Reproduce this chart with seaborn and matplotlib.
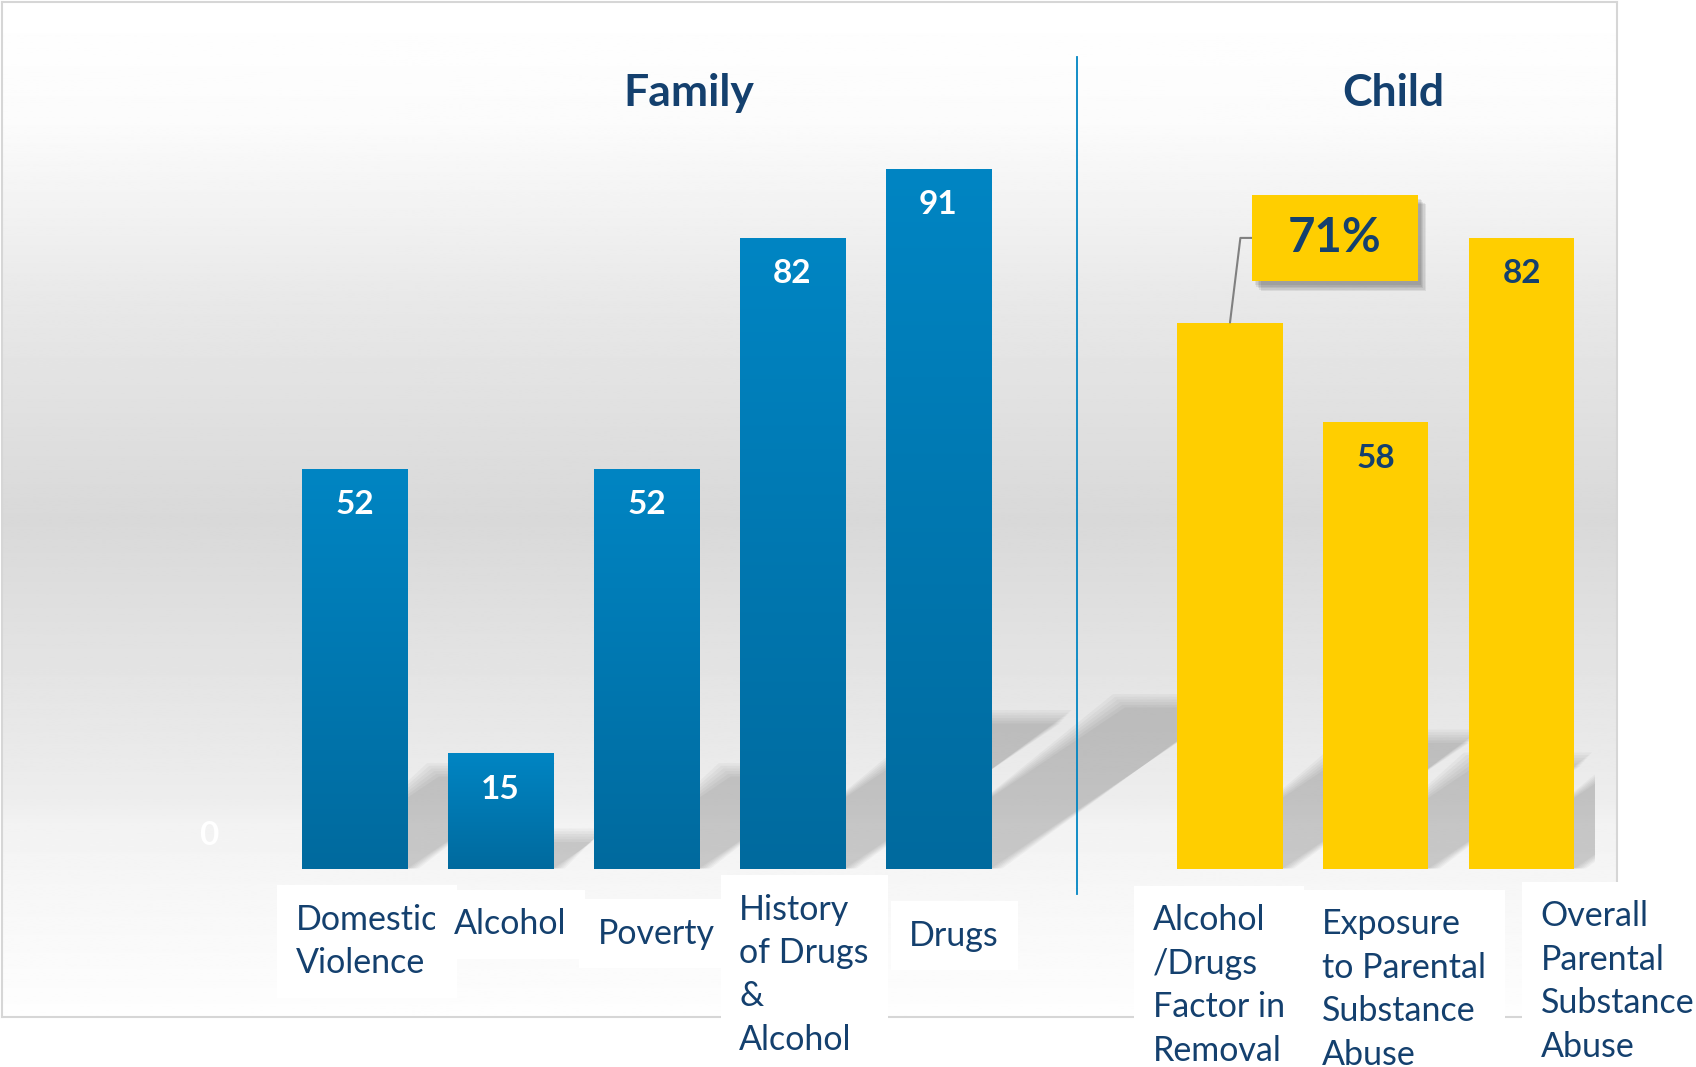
import numpy as np
import pandas as pd
import matplotlib
matplotlib.use('Agg')
import matplotlib.pyplot as plt
import matplotlib.patheffects as pe
from matplotlib.colors import LinearSegmentedColormap
from matplotlib.patches import Polygon
from matplotlib.path import Path
import seaborn as sns

# ---- data ----
slots = ['blank_a', 'Domestic Violence', 'Alcohol', 'Poverty', 'History of Drugs & Alcohol',
         'Drugs', 'blank_b', 'Alcohol/Drugs Factor in Removal',
         'Exposure to Parental Substance Abuse', 'Overall Parental Substance Abuse']
labels = ['', 'Domestic\nViolence', 'Alcohol', 'Poverty', 'History\nof Drugs\n&\nAlcohol',
          'Drugs', '', 'Alcohol\n/Drugs\nFactor in\nRemoval',
          'Exposure\nto Parental\nSubstance\nAbuse', 'Overall\nParental\nSubstance\nAbuse']
groups = ['Family'] * 6 + ['', 'Child', 'Child', 'Child']
values = [0, 52, 15, 52, 82, 91, np.nan, 71, 58, 82]
callout = 'Alcohol/Drugs Factor in Removal'
group_titles = ['Family', 'Child']

# ---- layout (pixels, full size) ----
label_dx = [0, -59, -47, -49, -53, -29, 0, -77, -54, 19]
label_dy = [0, 35, 40, 49, 25, 51, 0, 36, 40, 32]
title_x = [3.29, 8.12]

NAVY = '#14406E'
BLUE_TOP = '#0085C3'
BLUE_BOT = '#006A9E'
YELLOW = '#FFCE00'

plt.rcParams['font.family'] = ['Lato', 'DejaVu Sans']

W, H, DPI = 1696, 1067, 100
PT = 72 / DPI  # points per pixel
fig = plt.figure(figsize=(W / DPI, H / DPI), dpi=DPI)
fig.patch.set_facecolor('white')

# gradient panel behind the chart
bg = fig.add_axes([2 / W, 1 - 1017 / H, 1615 / W, 1015 / H], zorder=0)
yy = np.linspace(0, 1, 500)
grad = np.interp(yy, [0, .12, .295, .51, .786, .81, .89, 1],
                 [1, .985, .91, .85, .93, .95, .97, .995])[:, None]
bg.imshow(np.repeat(grad, 2, axis=1), cmap='gray', vmin=0, vmax=1,
          aspect='auto', extent=[0, 1, 0, 1])
bg.set_xticks([])
bg.set_yticks([])
for s in bg.spines.values():
    s.set_color('#d6d6d6')
    s.set_linewidth(1.5)

# main axes
ax = fig.add_axes([135.9 / W, 1 - 868.5 / H, 1458.8 / W, 769 / H], zorder=1)
ax.set_facecolor('none')

df = pd.DataFrame({'slot': slots, 'value': values, 'group': groups})
palette = {s: (BLUE_TOP if g == 'Family' else YELLOW) for s, g in zip(slots, groups)}
sns.barplot(data=df, x='slot', y='value', hue='slot', order=slots, hue_order=slots,
            palette=palette, legend=False, width=0.72, saturation=1, ax=ax, zorder=3)

bar_cmap = LinearSegmentedColormap.from_list('bar', [BLUE_BOT, BLUE_TOP])
for p in list(ax.patches):
    h = p.get_height()
    if not np.isfinite(h) or h <= 0:
        continue
    i = int(round(p.get_x() + p.get_width() / 2))
    x0, w = p.get_x(), p.get_width()
    # soft cast shadow
    sh, dx = 0.23 * h, 0.018 * h
    n = 6
    for k in range(n):
        e = (n - 1 - k) * 0.016
        ey = (n - 1 - k) * 0.35
        poly = Polygon([(x0 + e, 0), (x0 + w + e, 0), (x0 + w + dx + e, sh + ey),
                        (x0 + dx - e, sh + ey)], closed=True, fc='black', ec='none',
                       alpha=0.032, zorder=1)
        ax.add_patch(poly)
    if groups[i] == 'Family':
        im = ax.imshow(np.linspace(0, 1, 256)[:, None], cmap=bar_cmap, origin='lower',
                       extent=[x0, x0 + w, 0, h], aspect='auto', zorder=3.5)
        im.set_clip_path(p)

# value labels
for i, (v, g) in enumerate(zip(values, groups)):
    if not np.isfinite(v) or slots[i] == callout:
        continue
    col = 'white' if g == 'Family' else NAVY
    off = -36 if v > 0 else 33
    ax.annotate(f'{v:.0f}', xy=(i, v), xytext=(0, off * PT), textcoords='offset points',
                ha='center', va='center', fontsize=24, fontweight='bold', color=col, zorder=6)


def wide_box(x0, y0, width, height, mutation_size):
    px, py = 0.76 * mutation_size, 0.45 * mutation_size
    x0, y0 = x0 - px, y0 - py
    x1, y1 = x0 + width + 2 * px, y0 + height + 2 * py
    return Path([(x0, y0), (x1, y0), (x1, y1), (x0, y1), (x0, y0)], closed=True)


# callout box
ci = slots.index(callout)
t = ax.annotate(f'{values[ci]:.0f}%', xy=(ci, values[ci]), xytext=(ci + 0.72, 82),
                textcoords='data', ha='center', va='center', fontsize=34,
                fontweight='bold', color=NAVY,
                bbox=dict(boxstyle=wide_box, fc=YELLOW, ec='none'),
                arrowprops=dict(arrowstyle='-', color='#808080', lw=1.5, shrinkA=0,
                                shrinkB=0, relpos=(0, 0.5),
                                connectionstyle='angle,angleA=0,angleB=83,rad=0'),
                zorder=7)
soft = [pe.withSimplePatchShadow(offset=(2 + k, -3 - k), shadow_rgbFace='black', alpha=0.07)
        for k in range(5)]
t.get_bbox_patch().set_path_effects(soft + [pe.Normal()])

# category labels
for i, lab in enumerate(labels):
    if not lab:
        continue
    ax.annotate(lab, xy=(i, 0), xytext=(label_dx[i] * PT, -label_dy[i] * PT),
                textcoords='offset points', ha='left', va='top', fontsize=24.5,
                color=NAVY, linespacing=1.44, annotation_clip=False,
                bbox=dict(boxstyle='square,pad=0.55', fc='white', ec='none'), zorder=5)

# group titles and divider
for x, title in zip(title_x, group_titles):
    ax.text(x, 99.2, title, ha='center', va='baseline', fontsize=32, fontweight='bold',
            color=NAVY, clip_on=False)
ax.axvline(5.95, ymin=-25 / 769, ymax=(868.5 - 57) / 769, color=BLUE_TOP, lw=1.3,
           clip_on=False, zorder=2)

ax.set_xlim(-0.5, 9.5)
ax.set_ylim(0, 100)
ax.set_xticks([])
ax.set_yticks([])
ax.set_xlabel('')
ax.set_ylabel('')
for s in ax.spines.values():
    s.set_visible(False)

fig.savefig('out.png', dpi=DPI)
